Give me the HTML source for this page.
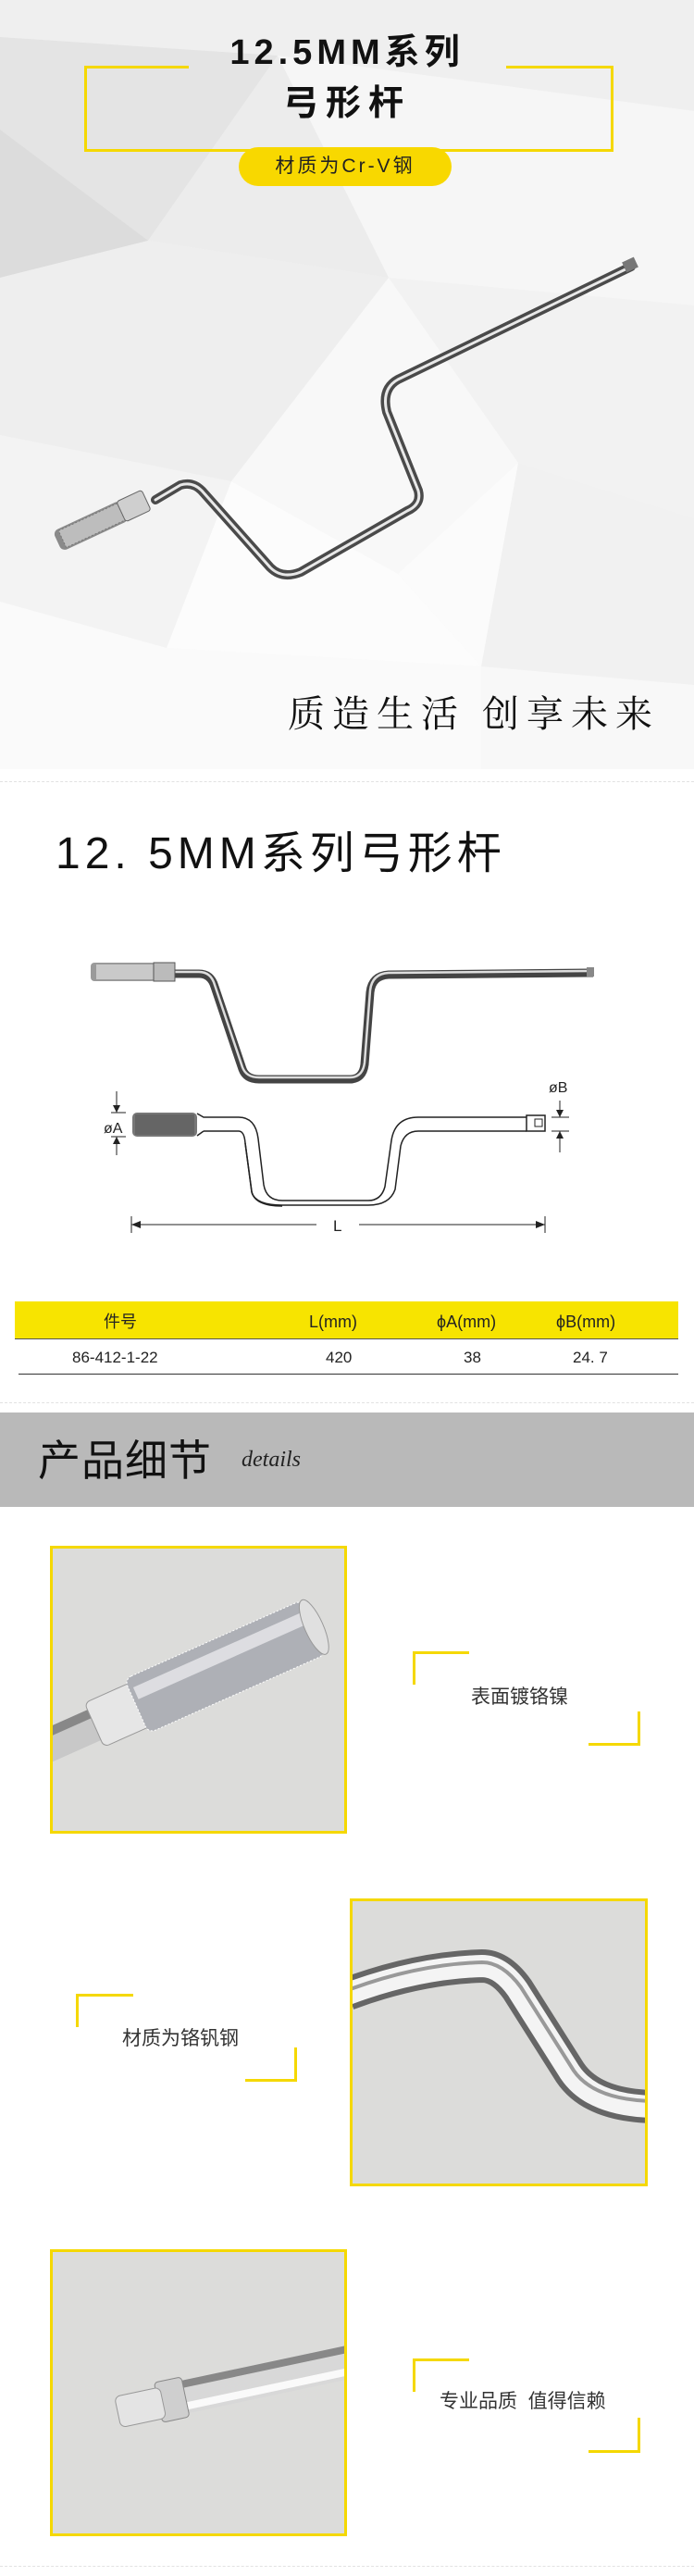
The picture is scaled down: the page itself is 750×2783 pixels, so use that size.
<!DOCTYPE html>
<html><head><meta charset="utf-8">
<style>
*{margin:0;padding:0;box-sizing:border-box}
body{width:750px;height:2783px;position:relative;background:#fff;font-family:"Liberation Sans","Noto Sans CJK SC",sans-serif;overflow:hidden}
.a{position:absolute}
.yl{position:absolute;background:#f5d800}
.dash{position:absolute;left:0;width:750px;border-top:1px dashed #e2e2e2}
.photo{position:absolute;border:3px solid #f5d800;background:#dcdcda;overflow:hidden}
.dt{position:absolute;font-size:21px;color:#333;white-space:nowrap;line-height:1}
</style></head><body>

<!-- HERO -->
<div class="a" style="left:0;top:0;width:750px;height:831px;background:#f4f4f4;overflow:hidden">
<svg width="750" height="831" style="position:absolute;left:0;top:0">
<polygon points="0,0 750,0 750,120 300,60 0,40" fill="#efefef"/>
<polygon points="0,40 300,60 160,260 0,300" fill="#e4e4e4"/>
<polygon points="0,300 160,260 0,140" fill="#dcdcdc"/>
<polygon points="300,60 750,120 750,330 420,300" fill="#f6f6f6"/>
<polygon points="160,260 300,60 420,300" fill="#ececec"/>
<polygon points="0,300 160,260 420,300 250,520 0,470" fill="#eeeeee"/>
<polygon points="420,300 750,330 750,560 560,500" fill="#f2f2f2"/>
<polygon points="250,520 420,300 560,500 430,620" fill="#f8f8f8"/>
<polygon points="0,470 250,520 180,700 0,650" fill="#f3f3f3"/>
<polygon points="560,500 750,560 750,740 520,720" fill="#f1f1f1"/>
<polygon points="520,720 750,740 750,831 520,831" fill="#f8f8f8"/>
<polygon points="0,650 180,700 520,720 520,831 0,831" fill="#fafafa"/>
<polygon points="430,620 560,500 520,720" fill="#fbfbfb"/>
<polygon points="180,700 250,520 430,620 520,720" fill="#fcfcfc"/>
<g fill="none" stroke-linecap="round" stroke-linejoin="round">
<path d="M682,288 L430,410 Q412,420 418,445 L452,530 Q456,545 440,552 L325,618 Q305,626 292,613 L218,530 Q208,520 195,524 L168,540" stroke="#4a4a4a" stroke-width="10"/>
<path d="M682,288 L430,410 Q412,420 418,445 L452,530 Q456,545 440,552 L325,618 Q305,626 292,613 L218,530 Q208,520 195,524 L168,540" stroke="#e8e8e8" stroke-width="3"/>
</g>
<g transform="translate(62,585) rotate(-25)">
<rect x="0" y="-12" width="80" height="24" rx="6" fill="#8a8a8a"/>
<rect x="6" y="-10" width="70" height="20" fill="#bdbdbd"/>
<rect x="6" y="-10" width="70" height="20" fill="none" stroke="#777" stroke-dasharray="2 2"/>
<rect x="76" y="-12" width="30" height="24" rx="3" fill="#cfcfcf" stroke="#666"/>
</g>
<rect x="674" y="280" width="14" height="12" fill="#777" transform="rotate(-25 681 286)"/>
</svg>
<div class="yl" style="left:91px;top:71px;width:113px;height:3px"></div>
<div class="yl" style="left:547px;top:71px;width:116px;height:3px"></div>
<div class="yl" style="left:91px;top:71px;width:3px;height:93px"></div>
<div class="yl" style="left:660px;top:71px;width:3px;height:93px"></div>
<div class="yl" style="left:91px;top:161px;width:572px;height:3px"></div>
<div class="a" style="left:0;top:34px;width:750px;text-align:center;font-size:38px;font-weight:bold;letter-spacing:5px;color:#111;line-height:46px">12.5MM系列</div>
<div class="a" style="left:0;top:89px;width:750px;text-align:center;font-size:38px;font-weight:bold;letter-spacing:8px;color:#111;line-height:46px">弓形杆</div>
<div class="a" style="left:258px;top:159px;width:230px;height:42px;border-radius:21px;background:#f8d800;text-align:center;line-height:42px;font-size:21px;letter-spacing:3px;color:#222">材质为Cr-V钢</div>
<div class="a" style="left:311px;top:748px;font-size:40px;letter-spacing:8px;color:#111;white-space:nowrap;line-height:48px;font-family:'Liberation Serif','Noto Serif CJK SC',serif">质造生活 创享未来</div>
</div>
<div class="dash" style="top:844px"></div>

<!-- SECTION 2 -->
<div class="a" style="left:60px;top:894px;font-size:48px;letter-spacing:5px;color:#111;white-space:nowrap;line-height:58px">12. 5MM系列弓形杆</div>
<svg class="a" style="left:0;top:1000px" width="750" height="360">
<g fill="none" stroke-linejoin="round">
<path d="M189,52 L215,52 Q228,52 232,66 L262,155 Q266,166 280,166 L378,166 Q392,166 394,150 L400,72 Q402,54 420,53 L641,51" stroke="#444" stroke-width="9"/>
<path d="M189,50 L215,50 Q228,50 232,64 L262,153 Q266,164 280,164 L378,164 Q392,164 394,148 L400,70 Q402,52 420,51 L641,49" stroke="#ddd" stroke-width="2.5"/>
</g>
<rect x="98" y="40" width="70" height="20" rx="4" fill="#9a9a9a"/>
<rect x="104" y="42" width="62" height="16" fill="#c9c9c9"/>
<rect x="166" y="40" width="23" height="20" fill="#bbb" stroke="#555"/>
<rect x="634" y="45" width="8" height="10" fill="#888"/>
<rect x="143" y="202" width="70" height="26" rx="5" fill="#777"/>
<rect x="146" y="204" width="64" height="22" fill="#5a5a5a" opacity=".6"/>
<path d="M213,203 L220,207 L258,207 Q276,207 279,230 L285,280 Q288,297 305,297 L398,297 Q412,297 416,282 L423,232 Q427,207 452,207 L569,207 M220,222 L258,222 Q264,222 265,235 L272,287 Q275,303 305,303" fill="none" stroke="#222" stroke-width="1.5"/>
<path d="M213,227 L220,222 M265,235 L272,288 Q276,302 305,302 L398,302 Q421,302 427,285 L433,238 Q437,222 452,222 L569,222" fill="none" stroke="#222" stroke-width="1.5"/>
<rect x="569" y="205" width="20" height="17" fill="#fff" stroke="#222" stroke-width="1.5"/>
<rect x="578" y="209" width="8" height="8" fill="none" stroke="#222"/>
<line x1="126" y1="179" x2="126" y2="202" stroke="#222"/><polygon points="122,194 130,194 126,202" fill="#222"/>
<line x1="126" y1="228" x2="126" y2="248" stroke="#222"/><polygon points="122,236 130,236 126,228" fill="#222"/>
<line x1="120" y1="202" x2="136" y2="202" stroke="#222"/><line x1="120" y1="228" x2="136" y2="228" stroke="#222"/>
<text x="112" y="224" font-size="16" font-family="Liberation Sans" fill="#222">øA</text>
<line x1="605" y1="189" x2="605" y2="207" stroke="#222"/><polygon points="601,199 609,199 605,207" fill="#222"/>
<line x1="605" y1="222" x2="605" y2="245" stroke="#222"/><polygon points="601,230 609,230 605,222" fill="#222"/>
<line x1="596" y1="207" x2="615" y2="207" stroke="#222"/><line x1="596" y1="222" x2="615" y2="222" stroke="#222"/>
<text x="593" y="180" font-size="16" font-family="Liberation Sans" fill="#222">øB</text>
<line x1="142" y1="314" x2="142" y2="332" stroke="#222"/><line x1="589" y1="314" x2="589" y2="332" stroke="#222"/>
<line x1="142" y1="323" x2="342" y2="323" stroke="#222"/><line x1="388" y1="323" x2="589" y2="323" stroke="#222"/>
<polygon points="142,323 152,319 152,327" fill="#222"/><polygon points="589,323 579,319 579,327" fill="#222"/>
<text x="360" y="330" font-size="17" font-family="Liberation Sans" fill="#222">L</text>
</svg>

<div class="a" style="left:16px;top:1406px;width:717px;height:41px;background:#f7e400;border-bottom:1px solid #555"></div>
<div class="a" style="left:20px;top:1484px;width:713px;height:1px;background:#333"></div>
<div class="a" style="top:1416px;left:0;width:750px;font-size:18px;color:#222;line-height:24px">
<span class="a" style="left:112px">件号</span><span class="a" style="left:334px">L(mm)</span><span class="a" style="left:472px">ϕA(mm)</span><span class="a" style="left:601px">ϕB(mm)</span></div>
<div class="a" style="top:1455px;left:0;width:750px;font-size:17px;color:#222;line-height:24px">
<span class="a" style="left:78px">86-412-1-22</span><span class="a" style="left:352px">420</span><span class="a" style="left:501px">38</span><span class="a" style="left:619px">24. 7</span></div>
<div class="dash" style="top:1515px"></div>

<div class="a" style="left:0;top:1526px;width:750px;height:102px;background:#b9b9b9"></div>
<div class="a" style="left:41px;top:1550px;font-size:46px;color:#111;line-height:56px;letter-spacing:1px">产品细节</div>
<div class="a" style="left:261px;top:1562px;font-size:24px;font-style:italic;font-family:'Liberation Serif',serif;color:#222;line-height:30px">details</div>

<div class="photo" style="left:54px;top:1670px;width:321px;height:311px">
<svg width="321" height="311">
<g transform="translate(-10,215) rotate(-24)">
<rect x="0" y="-18" width="100" height="36" fill="#c8c8c8"/>
<rect x="0" y="-18" width="100" height="10" fill="#888"/>
<rect x="60" y="-26" width="55" height="52" rx="6" fill="#e6e6e6" stroke="#999"/>
<rect x="110" y="-32" width="210" height="64" rx="8" fill="#aeb0b6"/>
<rect x="110" y="-32" width="210" height="64" rx="8" fill="none" stroke="#fff" stroke-width="1" stroke-dasharray="2 2"/>
<rect x="115" y="-20" width="200" height="14" fill="#e8e8ec" opacity=".8"/>
<ellipse cx="320" cy="0" rx="10" ry="32" fill="#e0e0e0" stroke="#999"/>
</g>
</svg>
</div>
<div class="yl" style="left:446px;top:1784px;width:61px;height:3px"></div>
<div class="yl" style="left:446px;top:1784px;width:3px;height:36px"></div>
<div class="yl" style="left:636px;top:1883px;width:56px;height:3px"></div>
<div class="yl" style="left:689px;top:1849px;width:3px;height:37px"></div>
<div class="dt" style="left:509px;top:1823px">表面镀铬镍</div>

<div class="yl" style="left:82px;top:2154px;width:62px;height:3px"></div>
<div class="yl" style="left:82px;top:2154px;width:3px;height:36px"></div>
<div class="yl" style="left:265px;top:2246px;width:56px;height:3px"></div>
<div class="yl" style="left:318px;top:2212px;width:3px;height:37px"></div>
<div class="dt" style="left:132px;top:2192px">材质为铬钒钢</div>
<div class="photo" style="left:378px;top:2051px;width:322px;height:311px">
<svg width="322" height="311">
<path d="M-5,100 Q70,72 140,70 Q160,70 178,95 L235,185 Q260,222 330,222" fill="none" stroke="#666" stroke-width="36"/>
<path d="M-5,100 Q70,72 140,70 Q160,70 178,95 L235,185 Q260,222 330,222" fill="none" stroke="#f4f4f4" stroke-width="24"/>
<path d="M-5,96 Q70,68 140,66 Q162,66 182,93 L239,183 Q262,216 330,216" fill="none" stroke="#999" stroke-width="4"/>
</svg>
</div>

<div class="photo" style="left:54px;top:2430px;width:321px;height:310px">
<svg width="321" height="310">
<g transform="translate(70,172) rotate(-12)">
<rect x="60" y="-18" width="280" height="36" fill="#d8d8d8"/>
<rect x="60" y="-18" width="280" height="8" fill="#888"/>
<rect x="60" y="6" width="280" height="8" fill="#fafafa"/>
<rect x="45" y="-22" width="30" height="44" rx="4" fill="#cfcfcf" stroke="#888"/>
<rect x="0" y="-16" width="50" height="34" rx="6" fill="#e4e4e4" stroke="#999"/>
</g>
</svg>
</div>
<div class="yl" style="left:446px;top:2548px;width:61px;height:3px"></div>
<div class="yl" style="left:446px;top:2548px;width:3px;height:36px"></div>
<div class="yl" style="left:636px;top:2647px;width:56px;height:3px"></div>
<div class="yl" style="left:689px;top:2612px;width:3px;height:38px"></div>
<div class="dt" style="left:475px;top:2584px">专业品质&nbsp;&nbsp;值得信赖</div>
<div class="dash" style="top:2772px"></div>
</body></html>
